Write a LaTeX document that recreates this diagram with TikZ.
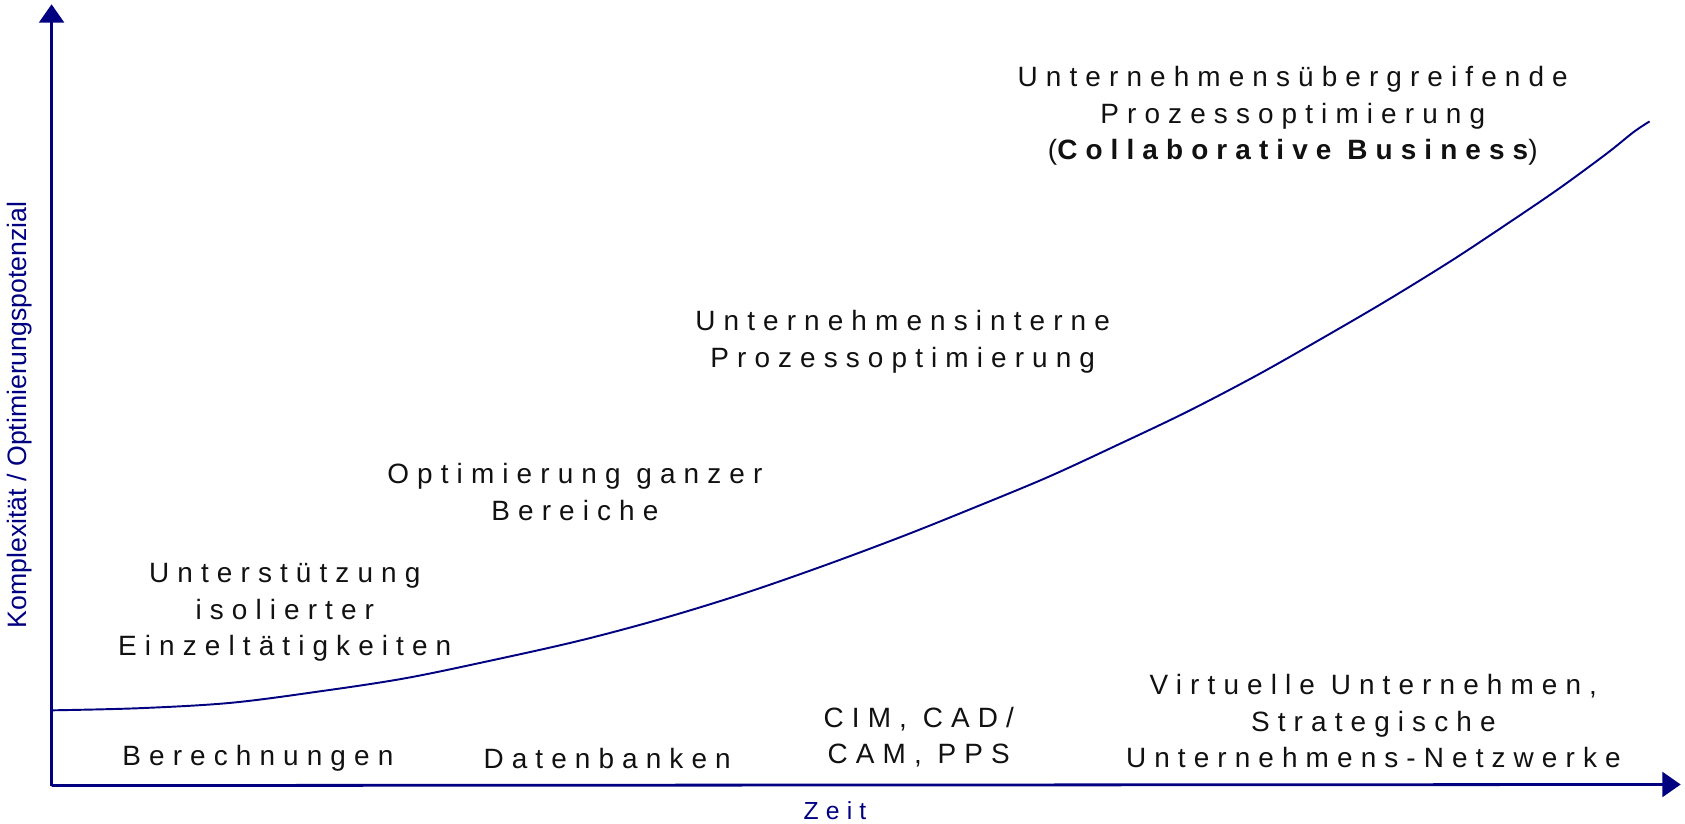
\documentclass[tikz,border=0pt]{standalone}
\usepackage{fontspec}
\setmainfont{Liberation Sans}
\newfontfamily\spaced[LetterSpace=29]{Liberation Sans}
\usetikzlibrary{arrows.meta}
\definecolor{axisblue}{RGB}{0,0,128}
\definecolor{ink}{RGB}{17,17,17}
\tikzset{
  lbl/.style={align=center, text=ink, inner sep=0pt, font=\spaced\fontsize{13}{17}\selectfont},
  axlbl/.style={text=axisblue, inner sep=0pt},
  axis/.style={draw=axisblue, line width=1.3pt, -{Triangle[length=8.5pt,width=11.5pt]}},
  growth/.style={draw=axisblue, line width=0.9pt},
}
\begin{document}
\begin{tikzpicture}[x=0.5pt,y=-0.5pt]
\useasboundingbox (0,0) rectangle (1568,766);
% axes
\coordinate (origin) at (48,731);
\coordinate (ytip) at (48,4);
\coordinate (xtip) at (1564,730);
\draw[axis] (origin) -- (ytip);
\draw[axis] (origin) -- (xtip);
\node[axlbl, rotate=90, font=\fontsize{12.4}{15}\selectfont] (ylabel) at (18,386) {Komplexität / Optimierungspotenzial};
\node[axlbl, font=\spaced\fontsize{11.5}{14}\selectfont] (xlabel) at (777,754) {Zeit};
% growth curve
\draw[growth] plot[smooth, tension=0.55] coordinates {
  (48,661) (130,659) (215,654) (300,643) (378,631) (460,614) (540,596)
  (615,576) (690,553) (765,527) (840,499) (905,473) (975,444) (1040,414)
  (1105,383) (1170,349) (1230,315) (1290,280) (1350,243) (1400,210)
  (1450,176) (1495,143) (1520,123) (1535,113)};
% stage labels above the curve
\node[lbl] (stage1) at (265,570) {Unterstützung\\isolierter\\Einzeltätigkeiten};
\node[lbl] (stage2) at (535,458) {Optimierung ganzer\\Bereiche};
\node[lbl] (stage3) at (840,318) {Unternehmensinterne\\Prozessoptimierung};
\node[lbl] (stage4) at (1203,108) {Unternehmensübergreifende\\Prozessoptimierung\\({\bfseries Collaborative Business})};
% technology labels along the time axis
\node[lbl] (tech1) at (240,706) {Berechnungen};
\node[lbl] (tech2) at (565,706) {Datenbanken};
\node[lbl] (tech3) at (855,686) {CIM, CAD/\\CAM, PPS};
\node[lbl] (tech4) at (1278,671) {Virtuelle Unternehmen,\\Strategische\\Unternehmens-Netzwerke};
\end{tikzpicture}
\end{document}
